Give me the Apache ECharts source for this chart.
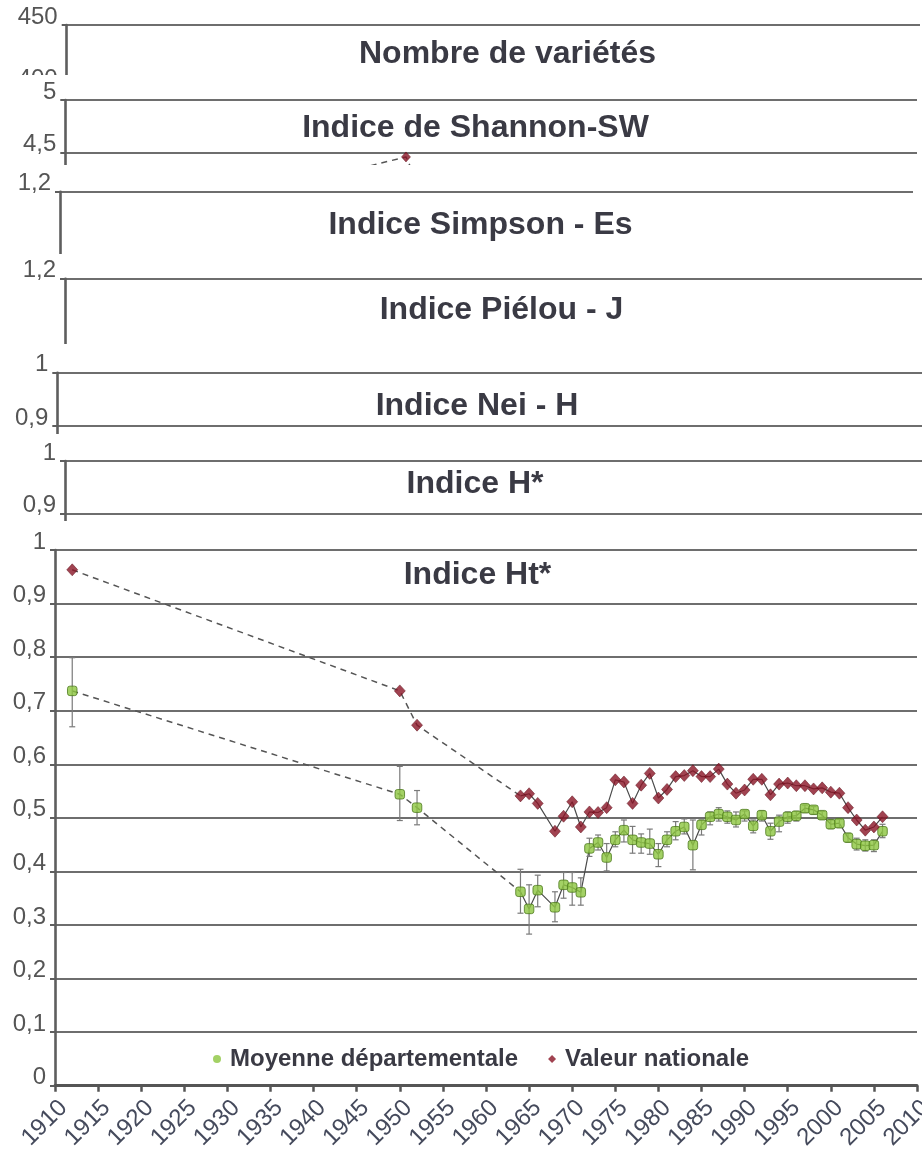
<!DOCTYPE html>
<html><head><meta charset="utf-8">
<script src="https://cdn.jsdelivr.net/npm/echarts@6/dist/echarts.min.js"></script>
<style>html,body{margin:0;padding:0;background:#fff}#c{width:922px;height:1150px}</style>
</head><body><div id="c"></div>
<script>
// ---------- DATA ----------
const panelTitles = ['Nombre de variétés','Indice de Shannon-SW','Indice Simpson - Es','Indice Piélou - J','Indice Nei - H','Indice H*','Indice Ht*'];
const seriesNames = ['Moyenne départementale','Valeur nationale'];
const yearTicks = [1910,1915,1920,1925,1930,1935,1940,1945,1950,1955,1960,1965,1970,1975,1980,1985,1990,1995,2000,2005,2010];
const years = [1912,1950,1952,1964,1965,1966,1968,1969,1970,1971,1972,1973,1974,1975,1976,1977,1978,1979,1980,1981,1982,1983,1984,1985,1986,1987,1988,1989,1990,1991,1992,1993,1994,1995,1996,1997,1998,1999,2000,2001,2002,2003,2004,2005,2006];
const nationalHt = [0.963,0.737,0.673,0.541,0.545,0.527,0.475,0.503,0.530,0.483,0.511,0.510,0.519,0.571,0.567,0.527,0.561,0.583,0.537,0.553,0.577,0.579,0.588,0.577,0.577,0.591,0.563,0.546,0.552,0.572,0.572,0.543,0.563,0.565,0.560,0.560,0.554,0.556,0.548,0.546,0.519,0.496,0.477,0.483,0.502];
const departMean = [0.737,0.544,0.519,0.362,0.330,0.365,0.333,0.375,0.370,0.361,0.443,0.454,0.426,0.459,0.477,0.459,0.454,0.452,0.432,0.459,0.475,0.483,0.449,0.487,0.502,0.507,0.502,0.496,0.507,0.485,0.505,0.475,0.493,0.502,0.504,0.518,0.515,0.505,0.488,0.490,0.463,0.451,0.448,0.449,0.475];
const departLow = [0.670,0.495,0.487,0.322,0.283,0.334,0.306,0.350,0.337,0.337,0.428,0.440,0.401,0.446,0.455,0.434,0.434,0.432,0.409,0.446,0.459,0.470,0.403,0.468,0.487,0.494,0.490,0.483,0.494,0.472,0.494,0.460,0.474,0.490,0.494,0.510,0.507,0.497,0.480,0.482,0.455,0.440,0.438,0.437,0.463];
const departHigh = [0.799,0.596,0.551,0.404,0.375,0.393,0.362,0.398,0.398,0.388,0.462,0.468,0.452,0.474,0.496,0.484,0.470,0.479,0.452,0.474,0.493,0.498,0.496,0.496,0.511,0.519,0.513,0.511,0.513,0.496,0.513,0.490,0.505,0.511,0.512,0.524,0.521,0.512,0.496,0.497,0.471,0.462,0.459,0.459,0.488];
const shannonYears = [1912,1950,1952];
const shannonNational = [3.70,4.46,4.10];
const dashedUntil = 1964;

// ---------- LAYOUT ----------
const panels = [
 {left:66.7, right:2,  top:25,    height:186,   min:300, max:450, interval:50,  thick:[],            tx:507.5, ty:54,    mask:null},
 {left:65.3, right:5,  top:100,   height:158.1, min:3.5, max:5,   interval:0.5, thick:[4.5],         tx:475.5, ty:128,   mask:75},
 {left:60,   right:9,  top:191.7, height:170,   min:0.8, max:1.2, interval:0.2, thick:[],            tx:480.5, ty:225,   mask:165},
 {left:65,   right:0,  top:278.7, height:180,   min:0.8, max:1.2, interval:0.2, thick:[1.2],         tx:501.5, ty:310,   mask:254},
 {left:57.3, right:0,  top:372.7, height:159.9, min:0.7, max:1,   interval:0.1, thick:[1],           tx:477,   ty:406,   mask:344},
 {left:65,   right:0,  top:461,   height:156.9, min:0.7, max:1,   interval:0.1, thick:[1],           tx:475,   ty:483.7, mask:434},
 {left:55,   right:5,  top:550,   height:535.7, min:0,   max:1,   interval:0.1, thick:[1,0.6,0.3,0.2], tx:477.5, ty:575, mask:521}
];
const FONT = 'Liberation Sans';
const fmt = v => String(Math.round(v*1000)/1000).replace('.', ',');

const grid=[], xAxis=[], yAxis=[], series=[], title=[], graphic=[];
panels.forEach((p,i)=>{
  const zb = 10*(i+1);
  const isMain = i === panels.length-1;
  grid.push({left:p.left, right:p.right, top:p.top, height:p.height, z:zb+1, containLabel:false, outerBoundsMode:'none'});
  xAxis.push({
    type:'value', gridIndex:i, min:1910, max:2010, interval:5, show:isMain, z:zb+3,
    axisLine:{show:true, onZero:false, lineStyle:{color:'#555', width:3}},
    axisTick:{show:true, length:6, lineStyle:{color:'#555', width:2.5}},
    axisLabel:{rotate:45, margin:10, verticalAlign:'top', lineHeight:24, fontSize:24, color:'#454a5c', fontFamily:FONT,
      customValues:yearTicks, showMaxLabel:true, showMinLabel:true, hideOverlap:false, formatter:v=>String(v)},
    splitLine:{show:false}
  });
  yAxis.push({
    type:'value', gridIndex:i, min:p.min, max:p.max, interval:p.interval, z:zb+3,
    axisLine:{show:true, lineStyle:{color:'#5e5e5e', width:2.6}},
    axisTick:{show:true, length:5, lineStyle:{color:'#5e5e5e', width:2}},
    axisLabel:{margin:9, fontSize:24, color:'#555', fontFamily:FONT, verticalAlign:'bottom', lineHeight:16, formatter:fmt, hideOverlap:false},
    splitLine:{show:true, lineStyle:{color:'#6e6e6e', width:2}}
  });
  if (p.thick.length) series.push({
    type:'line', xAxisIndex:i, yAxisIndex:i, data:[], z:zb+4, silent:true,
    markLine:{silent:true, symbol:'none', animation:false, label:{show:false},
      lineStyle:{type:'solid', color:'#555', width:3.5}, data:p.thick.map(v=>({yAxis:v}))}
  });
  title.push({text:panelTitles[i], left:p.tx, top:p.ty-16, textAlign:'center', padding:0, z:zb+6,
    textStyle:{fontFamily:FONT, fontWeight:'bold', fontSize:32, lineHeight:32, color:'#3a3a44'}});
  if (p.mask != null) graphic.push({type:'rect', silent:true, z:zb, shape:{x:0, y:p.mask, width:922, height:1150-p.mask}, style:{fill:'#fff'}});
});

const NAT = '#8a1426', DEP = '#8cc63f';
// Shannon panel (index 1): only the early national values
const shPairs = shannonYears.map((y,i)=>[y, shannonNational[i]]);
series.push({type:'line', xAxisIndex:1, yAxisIndex:1, data:shPairs, z:24, symbol:'none', lineStyle:{type:[6,5], color:'#555', width:1.5}, silent:true});
series.push({type:'scatter', xAxisIndex:1, yAxisIndex:1, data:shPairs, z:25, symbol:'diamond', symbolSize:[9,10], itemStyle:{color:NAT, borderColor:'#5a0d18', borderWidth:0.6}, silent:true});

// Main panel (index 6)
const M = 6, zm = 70;
const natPairs = years.map((y,i)=>[y, nationalHt[i]]);
const depPairs = years.map((y,i)=>[y, departMean[i]]);
const errData = years.map((y,i)=>[y, departLow[i], departHigh[i]]);
const dashedStyle = {type:[6,5], color:'#555', width:1.5};
const solidStyle = {type:'solid', color:'#4a4a4a', width:1.2};
series.push({type:'line', xAxisIndex:M, yAxisIndex:M, z:zm+4, symbol:'none', silent:true, lineStyle:dashedStyle, data:natPairs.filter(p=>p[0]<=dashedUntil)});
series.push({type:'line', xAxisIndex:M, yAxisIndex:M, z:zm+4, symbol:'none', silent:true, lineStyle:solidStyle, data:natPairs.filter(p=>p[0]>=dashedUntil)});
series.push({type:'line', xAxisIndex:M, yAxisIndex:M, z:zm+4, symbol:'none', silent:true, lineStyle:dashedStyle, data:depPairs.filter(p=>p[0]<=dashedUntil)});
series.push({type:'line', xAxisIndex:M, yAxisIndex:M, z:zm+4, symbol:'none', silent:true, lineStyle:solidStyle, data:depPairs.filter(p=>p[0]>=dashedUntil)});
series.push({type:'custom', xAxisIndex:M, yAxisIndex:M, z:zm+5, silent:true, data:errData, encode:{x:0, y:[1,2]},
  renderItem:(params, api)=>{
    const x = api.value(0);
    const hi = api.coord([x, api.value(2)]), lo = api.coord([x, api.value(1)]);
    const w = 3, st = {stroke:'#7a7a7a', lineWidth:1.2};
    return {type:'group', children:[
      {type:'line', shape:{x1:hi[0], y1:hi[1], x2:lo[0], y2:lo[1]}, style:st},
      {type:'line', shape:{x1:hi[0]-w, y1:hi[1], x2:hi[0]+w, y2:hi[1]}, style:st},
      {type:'line', shape:{x1:lo[0]-w, y1:lo[1], x2:lo[0]+w, y2:lo[1]}, style:st}
    ]};
  }});
series.push({name:seriesNames[0], type:'scatter', xAxisIndex:M, yAxisIndex:M, z:zm+6, data:depPairs, symbol:'roundRect', symbolSize:9.5,
  itemStyle:{color:DEP, borderColor:'#4e7a1e', borderWidth:1}});
series.push({name:seriesNames[1], type:'scatter', xAxisIndex:M, yAxisIndex:M, z:zm+7, data:natPairs, symbol:'diamond', symbolSize:[11,12],
  itemStyle:{color:NAT, borderColor:'#5a0d18', borderWidth:0.6}});

const option = {
  animation:false,
  backgroundColor:'#fff',
  grid, xAxis, yAxis, series, title, graphic,
  legend:{
    data:[{name:seriesNames[0], icon:'circle'},{name:seriesNames[1], icon:'diamond'}],
    left:213, top:1047, padding:0, itemWidth:8, itemHeight:8, itemGap:30, z:100,
    itemStyle:{borderWidth:0},
    textStyle:{fontFamily:FONT, fontWeight:'bold', fontSize:24, color:'#3a3a44', padding:[0,0,0,4]}
  }
};
const chart = echarts.init(document.getElementById('c'), null, {renderer:'canvas'});
chart.setOption(option);
</script>
</body></html>
